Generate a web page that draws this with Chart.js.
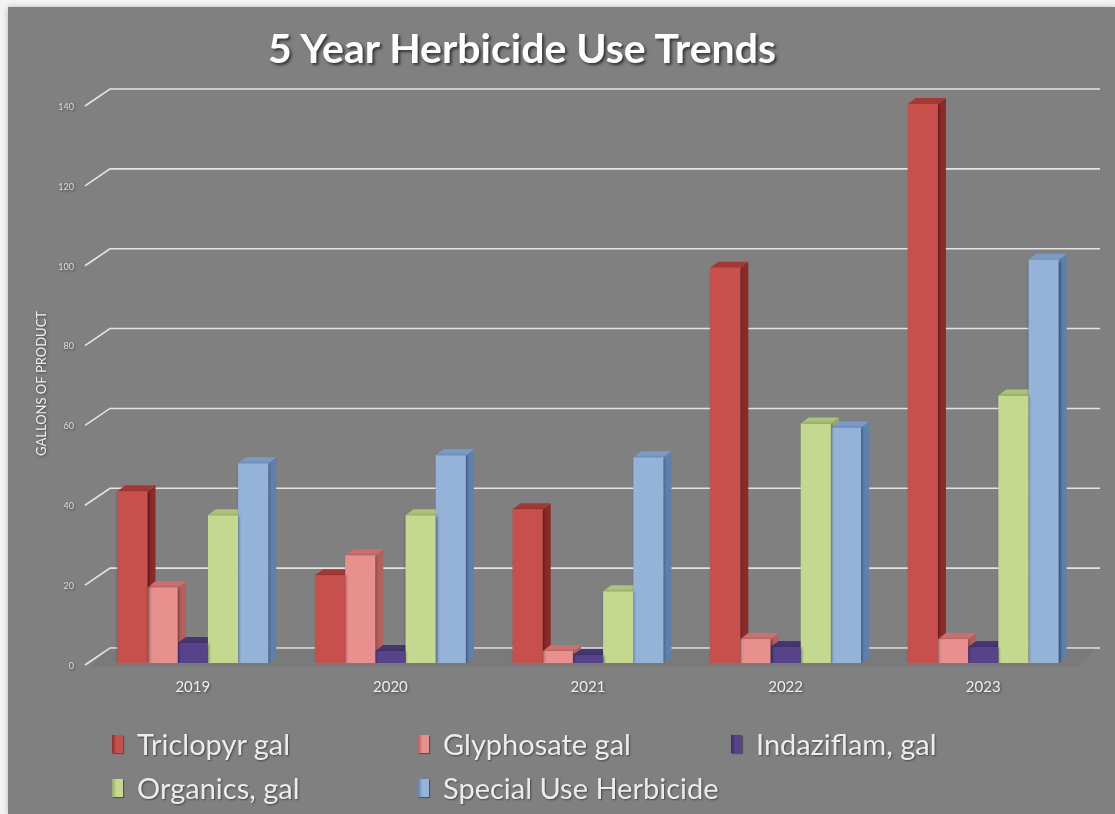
<!DOCTYPE html>
<html>
<head>
<meta charset="utf-8">
<script src="https://cdn.jsdelivr.net/npm/chart.js@4.4.1/dist/chart.umd.min.js"></script>
<style>
  html, body { margin: 0; padding: 0; }
  body { width: 1115px; height: 814px; background: #f4f4f4; position: relative; overflow: hidden; font-family: Lato, "Open Sans", sans-serif; }
  #panel { position: absolute; left: 8px; top: 7px; width: 1107px; height: 807px; background: #808080; box-shadow: 0 0 6px rgba(0,0,0,0.25); }
  #wrap { position: absolute; left: 0; top: 0; width: 1115px; height: 814px; }
  #title { position: absolute; left: 0; width: 1044px; top: 23px; text-align: center; color: #fff; font-weight: bold; font-size: 41px; line-height: 50px; text-shadow: 2px 2px 3px rgba(0,0,0,0.6); }
  #legend { position: absolute; left: 112px; top: 727px; display: grid; grid-template-columns: 306px 313px 300px; row-gap: 11px; }
  .item { display: flex; align-items: center; color: #ececec; font-size: 29px; line-height: 33px; text-shadow: 1px 1px 2px rgba(0,0,0,0.45); }
  .box { width: 11px; height: 18px; margin-right: 14px; box-shadow: 1px 1px 1px rgba(0,0,0,0.35); }
</style>
</head>
<body>
<div id="panel"></div>
<div id="wrap"><canvas id="chart" width="1115" height="814"></canvas></div>
<div id="title">5 Year Herbicide Use Trends</div>
<div id="legend"></div>
<script>
// Data
const years = ['2019', '2020', '2021', '2022', '2023'];
const triclopyr = [43, 22, 38.5, 99, 140];
const glyphosate = [19, 27, 3, 6, 6];
const indaziflam = [5, 3, 2, 4, 4];
const organics = [37, 37, 18, 60, 67];
const specialUse = [50, 52, 51.5, 59, 101];
const yTicks = [0, 20, 40, 60, 80, 100, 120, 140];

// front / side / top colours per series
const faceColors = ['#c8504c', '#e8908e', '#57438a', '#c4d98f', '#95b3d9'];
const sideColors = ['#8c2a27', '#b5605d', '#3a2b62', '#97ac62', '#5d80ad'];
const topColors  = ['#a63834', '#cc706d', '#463671', '#adc377', '#7b9cc6'];

const seriesNames = ['Triclopyr gal', 'Glyphosate gal', 'Indaziflam, gal', 'Organics, gal', 'Special Use Herbicide'];
const seriesData = [triclopyr, glyphosate, indaziflam, organics, specialUse];

// 3D look: back wall grid lines and side/top faces of the bars
const depthX = 8, depthY = 6;
const wallPlugin = {
    id: 'wall3d',
    beforeDatasetsDraw(chart) {
        const ctx = chart.ctx;
        const x = chart.scales.x, y = chart.scales.y;
        ctx.save();
        ctx.shadowColor = 'transparent';
        ctx.strokeStyle = '#e4e4e4';
        ctx.lineWidth = 1.6;
        yTicks.forEach(v => {
            const yb = y.getPixelForValue(v) - 15;
            ctx.beginPath();
            ctx.moveTo(x.left - 9, yb + 17);
            ctx.lineTo(x.left + 16, yb);
            ctx.lineTo(x.right + 18, yb);
            ctx.stroke();
        });
        // floor shadow band
        const y0 = y.getPixelForValue(0);
        ctx.fillStyle = 'rgba(40,40,40,0.06)';
        ctx.beginPath();
        ctx.moveTo(x.left + 14, y0 - 15);
        ctx.lineTo(x.right + 14, y0 - 15);
        ctx.lineTo(x.right - 4, y0 + 4);
        ctx.lineTo(x.left - 4, y0 + 4);
        ctx.closePath();
        ctx.fill();
        // side and top faces
        chart.data.datasets.forEach((ds, i) => {
            chart.getDatasetMeta(i).data.forEach(bar => {
                const p = bar.getProps(['x', 'y', 'base', 'width'], true);
                const l = p.x - p.width / 2, r = p.x + p.width / 2;
                ctx.fillStyle = sideColors[i];
                ctx.beginPath();
                ctx.moveTo(r, p.y);
                ctx.lineTo(r + depthX, p.y - depthY);
                ctx.lineTo(r + depthX, p.base - depthY);
                ctx.lineTo(r, p.base);
                ctx.closePath();
                ctx.fill();
                ctx.fillStyle = topColors[i];
                ctx.beginPath();
                ctx.moveTo(l, p.y);
                ctx.lineTo(l + depthX, p.y - depthY);
                ctx.lineTo(r + depthX, p.y - depthY);
                ctx.lineTo(r, p.y);
                ctx.closePath();
                ctx.fill();
            });
        });
        ctx.restore();
    }
};

const textShadow = {
    id: 'textShadow',
    beforeDraw(chart) {
        const ctx = chart.ctx;
        ctx.shadowColor = 'rgba(0,0,0,0.5)';
        ctx.shadowBlur = 3;
        ctx.shadowOffsetX = 1;
        ctx.shadowOffsetY = 1;
    },
    afterDraw(chart) {
        chart.ctx.shadowColor = 'transparent';
    }
};

const ctx = document.getElementById('chart').getContext('2d');
const chart = new Chart(ctx, {
    type: 'bar',
    data: {
        labels: years,
        datasets: seriesData.map((d, i) => ({
            label: seriesNames[i],
            data: d,
            backgroundColor: faceColors[i],
            borderWidth: 0
        }))
    },
    options: {
        responsive: false,
        animation: false,
        layout: { padding: { left: 30, right: 33, top: 104, bottom: 103 } },
        datasets: { bar: { categoryPercentage: 0.764, barPercentage: 1.0 } },
        scales: {
            x: {
                grid: { display: false, drawTicks: false },
                border: { display: false },
                ticks: { color: '#eeeeee', padding: 15, font: { family: 'Lato', size: 15 } }
            },
            y: {
                min: 0, max: 140,
                afterFit(scale) { scale.width = 64; },
                grid: { display: false, drawTicks: false },
                border: { display: false },
                ticks: { stepSize: 20, color: '#dddddd', padding: 20, labelOffset: 3, font: { family: 'Lato', size: 9 } },
                title: { display: true, text: 'GALLONS OF PRODUCT', color: '#f0f0f0', padding: { top: 4, bottom: 0 }, font: { family: 'Lato', size: 13 } }
            }
        },
        plugins: {
            legend: { display: false },
            tooltip: { enabled: false },
            title: { display: false }
        }
    },
    plugins: [textShadow, wallPlugin]
});

// HTML legend built from the datasets
const legendEl = document.getElementById('legend');
chart.data.datasets.forEach((ds, i) => {
    const item = document.createElement('div');
    item.className = 'item';
    const box = document.createElement('span');
    box.className = 'box';
    box.style.background = `linear-gradient(90deg, ${sideColors[i]}, ${ds.backgroundColor} 40%, ${ds.backgroundColor})`;
    item.appendChild(box);
    item.appendChild(document.createTextNode(ds.label));
    legendEl.appendChild(item);
});
</script>
</body>
</html>
